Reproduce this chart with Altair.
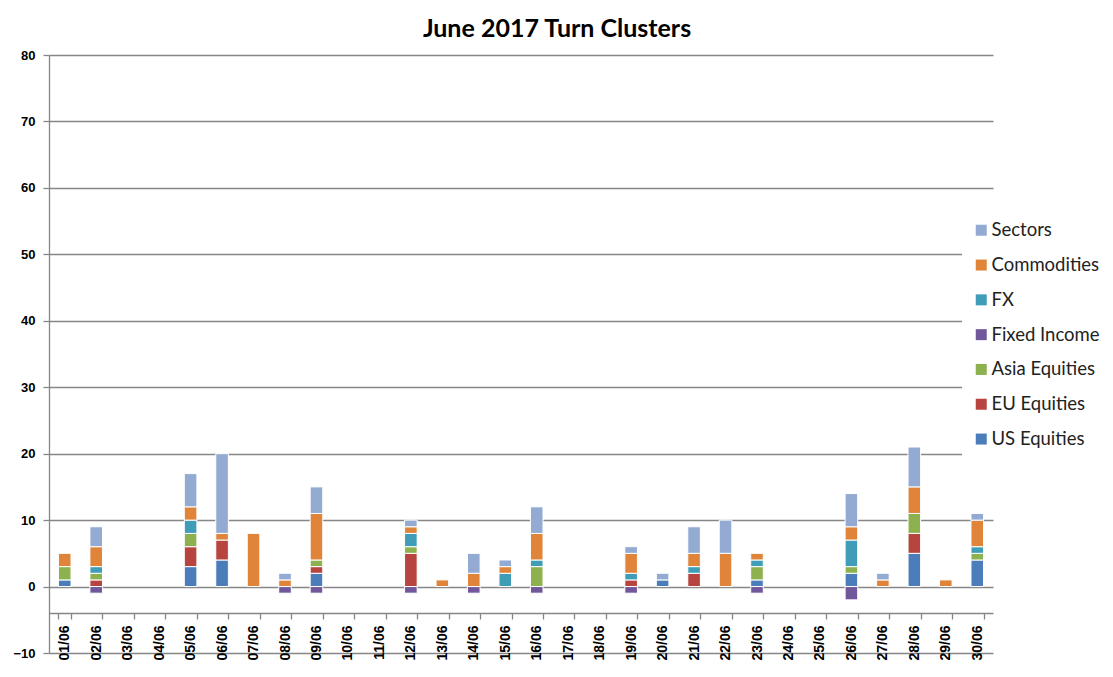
import altair as alt
import pandas as pd

days = ["01/06", "02/06", "03/06", "04/06", "05/06", "06/06", "07/06", "08/06", "09/06", "10/06",
        "11/06", "12/06", "13/06", "14/06", "15/06", "16/06", "17/06", "18/06", "19/06", "20/06",
        "21/06", "22/06", "23/06", "24/06", "25/06", "26/06", "27/06", "28/06", "29/06", "30/06"]

us_equities   = [1, 0, 0, 0, 3, 4, 0, 0, 2, 0, 0, 0, 0, 0, 0, 0, 0, 0, 0, 1, 0, 0, 1, 0, 0, 2, 0, 5, 0, 4]
eu_equities   = [0, 1, 0, 0, 3, 3, 0, 0, 1, 0, 0, 5, 0, 0, 0, 0, 0, 0, 1, 0, 2, 0, 0, 0, 0, 0, 0, 3, 0, 0]
asia_equities = [2, 1, 0, 0, 2, 0, 0, 0, 1, 0, 0, 1, 0, 0, 0, 3, 0, 0, 0, 0, 0, 0, 2, 0, 0, 1, 0, 3, 0, 1]
fixed_income  = [0, -1, 0, 0, 0, 0, 0, -1, -1, 0, 0, -1, 0, -1, 0, -1, 0, 0, -1, 0, 0, 0, -1, 0, 0, -2, 0, 0, 0, 0]
fx            = [0, 1, 0, 0, 2, 0, 0, 0, 0, 0, 0, 2, 0, 0, 2, 1, 0, 0, 1, 0, 1, 0, 1, 0, 0, 4, 0, 0, 0, 1]
commodities   = [2, 3, 0, 0, 2, 1, 8, 1, 7, 0, 0, 1, 1, 2, 1, 4, 0, 0, 3, 0, 2, 5, 1, 0, 0, 2, 1, 4, 1, 4]
sectors       = [0, 3, 0, 0, 5, 12, 0, 1, 4, 0, 0, 1, 0, 3, 1, 4, 0, 0, 1, 1, 4, 5, 0, 0, 0, 5, 1, 6, 0, 1]

# stacking order bottom -> top
series_names = ["US Equities", "EU Equities", "Asia Equities", "Fixed Income", "FX", "Commodities", "Sectors"]
series_values = [us_equities, eu_equities, asia_equities, fixed_income, fx, commodities, sectors]
series_colors = ["#4A7DBA", "#B8443F", "#8DB14F", "#71589A", "#3F9DB7", "#E0843A", "#93ABD3"]

y_ticks = [-10, 0, 10, 20, 30, 40, 50, 60, 70, 80]

rows = []
for k, (name, vals) in enumerate(zip(series_names, series_values)):
    for d, v in zip(days, vals):
        if v != 0:
            rows.append({"day": d, "series": name, "value": v, "order": k})
df = pd.DataFrame(rows)

legend_order = list(reversed(series_names))
legend_colors = list(reversed(series_colors))

grid_col = "#868686"

chart = alt.Chart(df).mark_bar(stroke="white", strokeWidth=1).encode(
    x=alt.X("day:N", sort=days,
            scale=alt.Scale(domain=days, paddingInner=0.6, paddingOuter=0.3),
            axis=alt.Axis(title=None, labelAngle=-90, labelFont="Liberation Sans",
                          labelFontWeight="bold", labelFontSize=14, labelColor="#000000",
                          offset=-40, tickBand="extent", tickSize=6, tickColor=grid_col,
                          domainColor=grid_col, domainWidth=1.3, tickWidth=1.3,
                          labelPadding=6, grid=False)),
    y=alt.Y("value:Q", stack="zero",
            scale=alt.Scale(domain=[-10, 80], nice=False, zero=False),
            axis=alt.Axis(title=None, values=y_ticks, labelFont="Liberation Sans",
                          labelFontWeight="bold", labelFontSize=13, labelColor="#000000",
                          tickSize=6, tickColor=grid_col, domainColor=grid_col,
                          domainWidth=1.3, tickWidth=1.3, gridColor=grid_col,
                          gridWidth=1.3, labelPadding=8)),
    color=alt.Color("series:N",
                    scale=alt.Scale(domain=legend_order, range=legend_colors),
                    legend=alt.Legend(title=None, orient="none", legendX=913, legendY=156,
                                      fillColor="white", padding=10, symbolType="square",
                                      symbolSize=121, symbolStrokeWidth=0,
                                      labelFont="Lato", labelFontSize=18.5, labelColor="#222222",
                                      rowPadding=15.8, labelOffset=1, labelLimit=200)),
    order=alt.Order("order:Q"),
).properties(
    width=944,
    height=598,
    autosize=alt.AutoSizeParams(type="none"),
    padding={"left": 41, "top": 47, "right": 112, "bottom": 16},
    title=alt.TitleParams("June 2017 Turn Clusters", font="Lato", fontSize=25,
                          fontWeight="bold", color="#000000", anchor="middle", dx=36, offset=7),
).configure_view(stroke=None)

chart.save("out.html", embed_options={"renderer": "svg", "actions": False})
